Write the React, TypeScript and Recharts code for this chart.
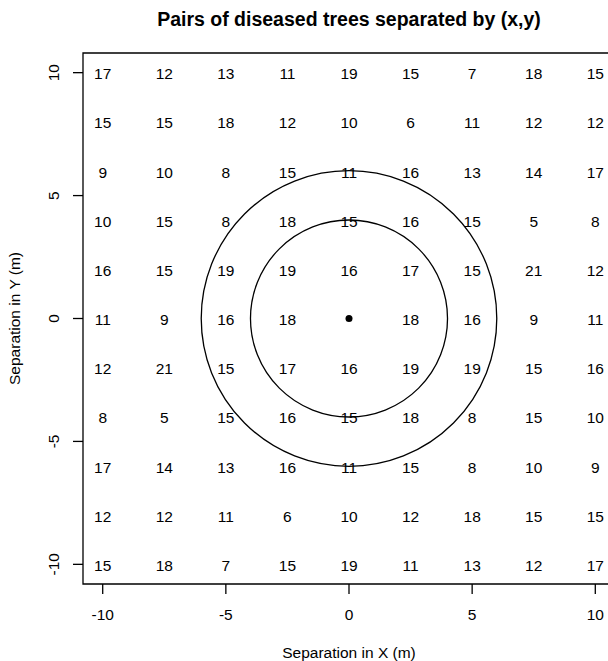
import React from 'react';
import {
  ScatterChart,
  Scatter,
  XAxis,
  YAxis,
  ReferenceArea,
} from 'recharts';

// ---- data ----
const COLS = [-10, -7.5, -5, -2.5, 0, 2.5, 5, 7.5, 10];
const ROWS = [10, 8, 6, 4, 2, 0, -2, -4, -6, -8, -10];
const ROW_10 = [17, 12, 13, 11, 19, 15, 7, 18, 15];
const ROW_8 = [15, 15, 18, 12, 10, 6, 11, 12, 12];
const ROW_6 = [9, 10, 8, 15, 11, 16, 13, 14, 17];
const ROW_4 = [10, 15, 8, 18, 15, 16, 15, 5, 8];
const ROW_2 = [16, 15, 19, 19, 16, 17, 15, 21, 12];
const ROW_0 = [11, 9, 16, 18, null, 18, 16, 9, 11];
const ROW_M2 = [12, 21, 15, 17, 16, 19, 19, 15, 16];
const ROW_M4 = [8, 5, 15, 16, 15, 18, 8, 15, 10];
const ROW_M6 = [17, 14, 13, 16, 11, 15, 8, 10, 9];
const ROW_M8 = [12, 12, 11, 6, 10, 12, 18, 15, 15];
const ROW_M10 = [15, 18, 7, 15, 19, 11, 13, 12, 17];
const VALUES = [ROW_10, ROW_8, ROW_6, ROW_4, ROW_2, ROW_0, ROW_M2, ROW_M4, ROW_M6, ROW_M8, ROW_M10];
const CIRCLE_RADII = [4, 6];
const CENTER = [{ x: 0, y: 0 }];
const TICKS = [-10, -5, 0, 5, 10];
const DOMAIN: [number, number] = [-10.8, 10.8];

const TITLE = 'Pairs of diseased trees separated by (x,y)';
const X_TITLE = 'Separation in X (m)';
const Y_TITLE = 'Separation in Y (m)';

// ---- layout ----
const CHART_W = 640;
const CHART_H = 661;
const Y_AXIS_W = 83;
const MARGIN = { top: 53, right: 25, bottom: 37, left: 0 };
const X_AXIS_H = 40;
const PLOT_W = CHART_W - Y_AXIS_W - MARGIN.left - MARGIN.right;
const PLOT_H = CHART_H - MARGIN.top - MARGIN.bottom - X_AXIS_H;
const PX_PER_UNIT = PLOT_W / (DOMAIN[1] - DOMAIN[0]);
const PLOT_CX = MARGIN.left + Y_AXIS_W + PLOT_W / 2;
const PLOT_CY = MARGIN.top + PLOT_H / 2;
const FONT = '"Liberation Sans", Arial, Helvetica, sans-serif';
const FS = 15.5;

const cellData: { x: number; y: number; v: number }[] = [];
ROWS.forEach((y, ri) => {
  COLS.forEach((x, ci) => {
    const v = VALUES[ri][ci];
    if (v !== null && v !== undefined) cellData.push({ x, y, v });
  });
});
const circleData = CIRCLE_RADII.map((r) => ({ x: 0, y: 0, r }));

const CellLabel = (props: any) => {
  const { cx, cy, payload } = props;
  return (
    <text x={cx} y={cy} dy="0.43em" textAnchor="middle" fontSize={FS} fontFamily={FONT} fill="#000">
      {payload.v}
    </text>
  );
};

const RingShape = (props: any) => {
  const { cx, cy, payload } = props;
  return <circle cx={cx} cy={cy} r={payload.r * PX_PER_UNIT} fill="none" stroke="#000" strokeWidth={1.3} />;
};

const DotShape = (props: any) => {
  const { cx, cy } = props;
  return <circle cx={cx} cy={cy} r={3.5} fill="#000" />;
};

const XTick = (props: any) => {
  const { x, y, payload } = props;
  return (
    <text x={x} y={y} dy={26} textAnchor="middle" fontSize={FS} fontFamily={FONT} fill="#000">
      {payload.value}
    </text>
  );
};

const YTick = (props: any) => {
  const { x, y, payload } = props;
  return (
    <text
      transform={`translate(${x - 14},${y}) rotate(-90)`}
      textAnchor="middle"
      fontSize={FS}
      fontFamily={FONT}
      fill="#000"
    >
      {payload.value}
    </text>
  );
};

export default function App() {
  return (
    <div
      style={{
        position: 'absolute',
        left: 0,
        top: 0,
        width: 608,
        height: 661,
        overflow: 'hidden',
        background: '#fff',
      }}
    >
      <ScatterChart width={CHART_W} height={CHART_H} margin={MARGIN}>
        <XAxis
          type="number"
          dataKey="x"
          domain={DOMAIN}
          ticks={TICKS}
          allowDataOverflow
          height={X_AXIS_H}
          axisLine={false}
          tickSize={10}
          tickMargin={0}
          tickLine={{ stroke: '#000', strokeWidth: 1.3 }}
          tick={<XTick />}
          interval={0}
        />
        <YAxis
          type="number"
          dataKey="y"
          domain={DOMAIN}
          ticks={TICKS}
          allowDataOverflow
          width={Y_AXIS_W}
          axisLine={false}
          tickSize={10}
          tickMargin={0}
          tickLine={{ stroke: '#000', strokeWidth: 1.3 }}
          tick={<YTick />}
          interval={0}
        />
        <ReferenceArea
          x1={DOMAIN[0]}
          x2={DOMAIN[1]}
          y1={DOMAIN[0]}
          y2={DOMAIN[1]}
          fill="none"
          stroke="#000"
          strokeWidth={1.3}
          ifOverflow="visible"
        />
        <Scatter data={cellData} shape={<CellLabel />} isAnimationActive={false} />
        <Scatter data={circleData} shape={<RingShape />} isAnimationActive={false} />
        <Scatter data={CENTER} shape={<DotShape />} isAnimationActive={false} />
      </ScatterChart>
      <svg
        width={608}
        height={661}
        style={{ position: 'absolute', left: 0, top: 0, pointerEvents: 'none' }}
      >
        <text x={PLOT_CX} y={26} textAnchor="middle" fontSize={19.5} fontWeight="bold" fontFamily={FONT} fill="#000">
          {TITLE}
        </text>
        <text x={PLOT_CX} y={658} textAnchor="middle" fontSize={FS} fontFamily={FONT} fill="#000">
          {X_TITLE}
        </text>
        <text
          transform={`translate(20,${PLOT_CY}) rotate(-90)`}
          textAnchor="middle"
          fontSize={FS}
          fontFamily={FONT}
          fill="#000"
        >
          {Y_TITLE}
        </text>
      </svg>
    </div>
  );
}
